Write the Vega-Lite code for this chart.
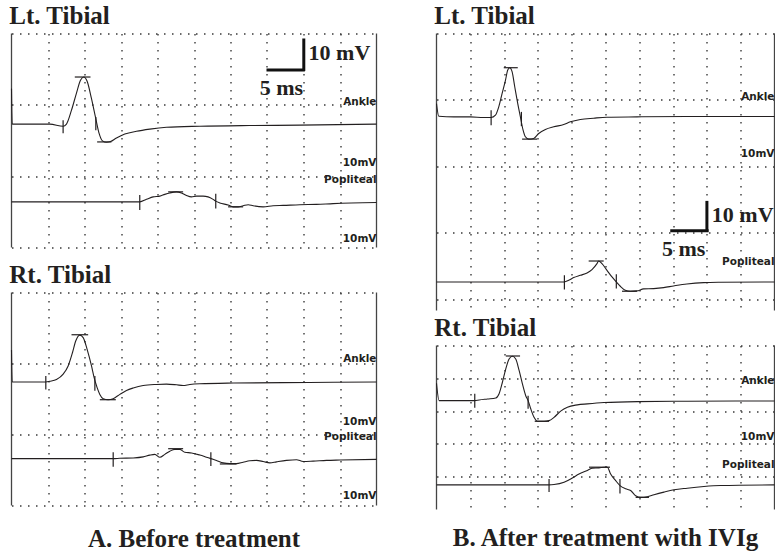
{
  "$schema": "https://vega.github.io/schema/vega-lite/v6.json",
  "background": "white",
  "padding": {"left": 8.5, "top": 3.5, "right": 0, "bottom": 0},
  "config": {
    "view": {"stroke": null},
    "axis": {"labels": false, "ticks": false, "domain": false, "grid": true, "gridColor": "#3a3a3a", "gridDash": [1.5, 6.5], "gridWidth": 1.4, "minExtent": 0, "maxExtent": 0, "labelPadding": 0, "titlePadding": 0},
    "title": {"font": "Liberation Serif", "fontSize": 25, "fontWeight": "bold", "color": "#231f20", "anchor": "start", "offset": 4},
    "line": {"color": "#231f20", "strokeWidth": 1.1, "interpolate": "monotone"}
  },
  "spacing": 54,
  "hconcat": [
    {
      "title": {"text": "A. Before treatment", "orient": "bottom", "anchor": "middle", "offset": 21},
      "spacing": 14,
      "vconcat": [
        {
          "width": 365, "height": 214,
          "title": {"text": "Lt. Tibial"},
          "layer": [
            {"data": {"values": [{"b": 0}, {"b": 50}]},
             "mark": {"type": "rule", "color": "#444", "strokeWidth": 1.3},
             "encoding": {"x": {"field": "b", "type": "quantitative", "scale": {"domain": [0, 50], "nice": false, "zero": false}, "axis": {"values": [5, 10, 15, 20, 25, 30, 35, 40, 45], "title": null}}}},
            {"data": {"values": [
              {"t": 0.0, "v": -15.4, "s": "Ankle"}, {"t": 0.1, "v": -25.4, "s": "Ankle"}, {"t": 5.25, "v": -25.4, "s": "Ankle"}, {"t": 7.07, "v": -26.0, "s": "Ankle"}, {"t": 7.53, "v": -25.4, "s": "Ankle"}, {"t": 8.22, "v": -21.5, "s": "Ankle"}, {"t": 8.9, "v": -16.7, "s": "Ankle"}, {"t": 9.45, "v": -13.1, "s": "Ankle"}, {"t": 9.9, "v": -12.2, "s": "Ankle"}, {"t": 10.36, "v": -13.4, "s": "Ankle"}, {"t": 10.95, "v": -18.2, "s": "Ankle"}, {"t": 11.54, "v": -23.8, "s": "Ankle"}, {"t": 12.0, "v": -28.0, "s": "Ankle"}, {"t": 12.46, "v": -30.1, "s": "Ankle"}, {"t": 13.01, "v": -30.5, "s": "Ankle"}, {"t": 13.56, "v": -30.3, "s": "Ankle"}, {"t": 14.38, "v": -29.3, "s": "Ankle"}, {"t": 15.52, "v": -28.2, "s": "Ankle"}, {"t": 17.12, "v": -27.4, "s": "Ankle"}, {"t": 18.95, "v": -26.8, "s": "Ankle"}, {"t": 21.23, "v": -26.3, "s": "Ankle"}, {"t": 25.8, "v": -26.0, "s": "Ankle"}, {"t": 32.6, "v": -25.8, "s": "Ankle"}, {"t": 39.5, "v": -25.7, "s": "Ankle"}, {"t": 50, "v": -25.4, "s": "Ankle"},
              {"t": 0, "v": -47.2, "s": "Popliteal"}, {"t": 17.57, "v": -47.2, "s": "Popliteal"}, {"t": 18.49, "v": -46.5, "s": "Popliteal"}, {"t": 19.4, "v": -45.8, "s": "Popliteal"}, {"t": 20.31, "v": -45.6, "s": "Popliteal"}, {"t": 21.0, "v": -45.1, "s": "Popliteal"}, {"t": 21.68, "v": -44.7, "s": "Popliteal"}, {"t": 22.6, "v": -44.4, "s": "Popliteal"}, {"t": 23.28, "v": -44.7, "s": "Popliteal"}, {"t": 23.97, "v": -45.4, "s": "Popliteal"}, {"t": 24.65, "v": -45.8, "s": "Popliteal"}, {"t": 25.34, "v": -45.6, "s": "Popliteal"}, {"t": 26.25, "v": -45.6, "s": "Popliteal"}, {"t": 26.93, "v": -45.8, "s": "Popliteal"}, {"t": 27.62, "v": -46.5, "s": "Popliteal"}, {"t": 27.98, "v": -47.0, "s": "Popliteal"}, {"t": 28.53, "v": -47.5, "s": "Popliteal"}, {"t": 29.67, "v": -48.1, "s": "Popliteal"}, {"t": 30.36, "v": -48.6, "s": "Popliteal"}, {"t": 31.04, "v": -48.6, "s": "Popliteal"}, {"t": 31.73, "v": -48.3, "s": "Popliteal"}, {"t": 32.42, "v": -48.0, "s": "Popliteal"}, {"t": 33.1, "v": -48.3, "s": "Popliteal"}, {"t": 34.47, "v": -48.6, "s": "Popliteal"}, {"t": 35.84, "v": -48.3, "s": "Popliteal"}, {"t": 37.21, "v": -48.2, "s": "Popliteal"}, {"t": 39.49, "v": -48.0, "s": "Popliteal"}, {"t": 41.77, "v": -47.9, "s": "Popliteal"}, {"t": 44.06, "v": -47.7, "s": "Popliteal"}, {"t": 50, "v": -47.4, "s": "Popliteal"}
             ]},
             "mark": {"type": "line"},
             "encoding": {"x": {"field": "t", "type": "quantitative"}, "y": {"field": "v", "type": "quantitative", "scale": {"domain": [-60, 0], "nice": false, "zero": false}, "axis": {"values": [0, -10, -20, -30, -40, -50, -60], "title": null}}, "detail": {"field": "s"}}},
            {"data": {"values": [
              {"x": 7.07, "x2": 7.07, "y": -24.3, "y2": -28.0}, {"x": 8.67, "x2": 10.82, "y": -12.2, "y2": -12.2}, {"x": 11.55, "x2": 11.55, "y": -23.4, "y2": -27.1}, {"x": 11.73, "x2": 13.69, "y": -30.4, "y2": -30.4},
              {"x": 17.57, "x2": 17.57, "y": -45.3, "y2": -49.5}, {"x": 21.46, "x2": 23.51, "y": -44.4, "y2": -44.4}, {"x": 27.98, "x2": 27.98, "y": -44.9, "y2": -49.1}, {"x": 29.67, "x2": 31.73, "y": -48.6, "y2": -48.6}
             ]},
             "mark": {"type": "rule", "color": "#231f20", "strokeWidth": 1.2},
             "encoding": {"x": {"field": "x", "type": "quantitative"}, "x2": {"field": "x2"}, "y": {"field": "y", "type": "quantitative"}, "y2": {"field": "y2"}}},
            {"data": {"values": [{"x": 40.04, "x2": 40.04, "y": -1.4, "y2": -10.5}, {"x": 34.93, "x2": 40.18, "y": -10.2, "y2": -10.2}]},
             "mark": {"type": "rule", "color": "#111", "strokeWidth": 3},
             "encoding": {"x": {"field": "x", "type": "quantitative"}, "x2": {"field": "x2"}, "y": {"field": "y", "type": "quantitative"}, "y2": {"field": "y2"}}},
            {"data": {"values": [{"t": 40.7, "v": -5.6, "label": "10 mV", "a": "left"}, {"t": 36.98, "v": -15.4, "label": "5 ms", "a": "center"}]},
             "mark": {"type": "text", "font": "Liberation Serif", "fontWeight": "bold", "fontSize": 22, "baseline": "middle", "align": {"expr": "datum.a"}, "color": "#231f20"},
             "encoding": {"x": {"field": "t", "type": "quantitative"}, "y": {"field": "v", "type": "quantitative"}, "text": {"field": "label"}}},
            {"data": {"values": [{"t": 50, "v": -19.3, "label": "Ankle"}, {"t": 50, "v": -36.4, "label": "10mV"}, {"t": 50, "v": -41.1, "label": "Popliteal"}, {"t": 50, "v": -57.7, "label": "10mV"}]},
             "mark": {"type": "text", "font": "DejaVu Sans", "fontWeight": "bold", "fontSize": 10.5, "baseline": "middle", "align": "right", "color": "#231f20"},
             "encoding": {"x": {"field": "t", "type": "quantitative"}, "y": {"field": "v", "type": "quantitative"}, "text": {"field": "label"}}}
          ]
        },
        {
          "width": 365, "height": 213,
          "title": {"text": "Rt. Tibial"},
          "layer": [
            {"data": {"values": [{"b": 0}, {"b": 50}]},
             "mark": {"type": "rule", "color": "#444", "strokeWidth": 1.3},
             "encoding": {"x": {"field": "b", "type": "quantitative", "scale": {"domain": [0, 50], "nice": false, "zero": false}, "axis": {"values": [5, 10, 15, 20, 25, 30, 35, 40, 45], "title": null}}}},
            {"data": {"values": [
              {"t": 0.0, "v": -16.2, "s": "Ankle"}, {"t": 0.1, "v": -25.2, "s": "Ankle"}, {"t": 4.7, "v": -25.2, "s": "Ankle"}, {"t": 5.25, "v": -25.0, "s": "Ankle"}, {"t": 6.16, "v": -24.5, "s": "Ankle"}, {"t": 7.08, "v": -23.0, "s": "Ankle"}, {"t": 7.76, "v": -20.7, "s": "Ankle"}, {"t": 8.36, "v": -16.9, "s": "Ankle"}, {"t": 8.81, "v": -13.6, "s": "Ankle"}, {"t": 9.36, "v": -12.0, "s": "Ankle"}, {"t": 9.82, "v": -12.7, "s": "Ankle"}, {"t": 10.36, "v": -16.0, "s": "Ankle"}, {"t": 10.96, "v": -20.7, "s": "Ankle"}, {"t": 11.32, "v": -24.0, "s": "Ankle"}, {"t": 11.73, "v": -26.8, "s": "Ankle"}, {"t": 12.1, "v": -28.7, "s": "Ankle"}, {"t": 12.56, "v": -29.9, "s": "Ankle"}, {"t": 13.24, "v": -30.2, "s": "Ankle"}, {"t": 13.93, "v": -29.9, "s": "Ankle"}, {"t": 14.84, "v": -28.7, "s": "Ankle"}, {"t": 15.75, "v": -27.6, "s": "Ankle"}, {"t": 16.67, "v": -26.9, "s": "Ankle"}, {"t": 18.04, "v": -26.2, "s": "Ankle"}, {"t": 19.86, "v": -25.9, "s": "Ankle"}, {"t": 21.23, "v": -25.8, "s": "Ankle"}, {"t": 22.6, "v": -26.0, "s": "Ankle"}, {"t": 23.51, "v": -26.2, "s": "Ankle"}, {"t": 24.43, "v": -25.9, "s": "Ankle"}, {"t": 25.8, "v": -25.7, "s": "Ankle"}, {"t": 30.36, "v": -25.5, "s": "Ankle"}, {"t": 37.21, "v": -25.4, "s": "Ankle"}, {"t": 44.06, "v": -25.3, "s": "Ankle"}, {"t": 50, "v": -25.2, "s": "Ankle"},
              {"t": 0, "v": -46.8, "s": "Popliteal"}, {"t": 13.93, "v": -46.8, "s": "Popliteal"}, {"t": 14.84, "v": -46.7, "s": "Popliteal"}, {"t": 16.67, "v": -46.6, "s": "Popliteal"}, {"t": 18.04, "v": -46.3, "s": "Popliteal"}, {"t": 18.95, "v": -45.8, "s": "Popliteal"}, {"t": 19.63, "v": -45.6, "s": "Popliteal"}, {"t": 20.32, "v": -46.4, "s": "Popliteal"}, {"t": 21.0, "v": -45.6, "s": "Popliteal"}, {"t": 21.69, "v": -44.7, "s": "Popliteal"}, {"t": 22.37, "v": -44.2, "s": "Popliteal"}, {"t": 23.06, "v": -44.2, "s": "Popliteal"}, {"t": 23.74, "v": -45.0, "s": "Popliteal"}, {"t": 24.66, "v": -45.2, "s": "Popliteal"}, {"t": 25.8, "v": -45.8, "s": "Popliteal"}, {"t": 26.71, "v": -46.4, "s": "Popliteal"}, {"t": 27.31, "v": -46.8, "s": "Popliteal"}, {"t": 28.08, "v": -47.3, "s": "Popliteal"}, {"t": 28.99, "v": -48.0, "s": "Popliteal"}, {"t": 29.91, "v": -48.2, "s": "Popliteal"}, {"t": 30.82, "v": -48.2, "s": "Popliteal"}, {"t": 31.73, "v": -47.8, "s": "Popliteal"}, {"t": 32.65, "v": -47.4, "s": "Popliteal"}, {"t": 33.56, "v": -47.3, "s": "Popliteal"}, {"t": 34.47, "v": -47.6, "s": "Popliteal"}, {"t": 35.39, "v": -48.0, "s": "Popliteal"}, {"t": 36.3, "v": -47.7, "s": "Popliteal"}, {"t": 37.67, "v": -47.3, "s": "Popliteal"}, {"t": 39.04, "v": -47.1, "s": "Popliteal"}, {"t": 39.95, "v": -47.6, "s": "Popliteal"}, {"t": 41.32, "v": -47.5, "s": "Popliteal"}, {"t": 43.15, "v": -47.3, "s": "Popliteal"}, {"t": 44.98, "v": -47.2, "s": "Popliteal"}, {"t": 50, "v": -47.0, "s": "Popliteal"}
             ]},
             "mark": {"type": "line"},
             "encoding": {"x": {"field": "t", "type": "quantitative"}, "y": {"field": "v", "type": "quantitative", "scale": {"domain": [-60, 0], "nice": false, "zero": false}, "axis": {"values": [0, -10, -20, -30, -40, -50, -60], "title": null}}, "detail": {"field": "s"}}},
            {"data": {"values": [
              {"x": 4.7, "x2": 4.7, "y": -23.5, "y2": -27.3}, {"x": 8.22, "x2": 10.5, "y": -11.9, "y2": -11.9}, {"x": 11.42, "x2": 11.42, "y": -23.5, "y2": -27.7}, {"x": 12.1, "x2": 14.29, "y": -30.2, "y2": -30.2},
              {"x": 13.93, "x2": 13.93, "y": -45.0, "y2": -49.1}, {"x": 21.46, "x2": 23.51, "y": -44.0, "y2": -44.0}, {"x": 27.31, "x2": 27.31, "y": -45.0, "y2": -48.9}, {"x": 28.54, "x2": 30.82, "y": -48.3, "y2": -48.3}
             ]},
             "mark": {"type": "rule", "color": "#231f20", "strokeWidth": 1.2},
             "encoding": {"x": {"field": "x", "type": "quantitative"}, "x2": {"field": "x2"}, "y": {"field": "y", "type": "quantitative"}, "y2": {"field": "y2"}}},
            {"data": {"values": [{"t": 50, "v": -18.8, "label": "Ankle"}, {"t": 50, "v": -36.4, "label": "10mV"}, {"t": 50, "v": -40.6, "label": "Popliteal"}, {"t": 50, "v": -57.4, "label": "10mV"}]},
             "mark": {"type": "text", "font": "DejaVu Sans", "fontWeight": "bold", "fontSize": 10.5, "baseline": "middle", "align": "right", "color": "#231f20"},
             "encoding": {"x": {"field": "t", "type": "quantitative"}, "y": {"field": "v", "type": "quantitative"}, "text": {"field": "label"}}}
          ]
        }
      ]
    },
    {
      "title": {"text": "B. After treatment with IVIg", "orient": "bottom", "anchor": "middle", "offset": 16},
      "spacing": 4,
      "vconcat": [
        {
          "width": 338, "height": 277,
          "title": {"text": "Lt. Tibial"},
          "layer": [
            {"data": {"values": [{"b": 0}, {"b": 50}]},
             "mark": {"type": "rule", "color": "#444", "strokeWidth": 1.3},
             "encoding": {"x": {"field": "b", "type": "quantitative", "scale": {"domain": [0, 50], "nice": false, "zero": false}, "axis": {"values": [5, 10, 15, 20, 25, 30, 35, 40, 45], "title": null}}}},
            {"data": {"values": [
              {"t": 0.0, "v": -21.1, "s": "Ankle"}, {"t": 0.34, "v": -24.9, "s": "Ankle"}, {"t": 2.56, "v": -25.1, "s": "Ankle"}, {"t": 5.02, "v": -25.1, "s": "Ankle"}, {"t": 6.99, "v": -25.3, "s": "Ankle"}, {"t": 8.08, "v": -25.3, "s": "Ankle"}, {"t": 8.72, "v": -24.6, "s": "Ankle"}, {"t": 9.21, "v": -22.1, "s": "Ankle"}, {"t": 9.7, "v": -18.1, "s": "Ankle"}, {"t": 10.2, "v": -14.1, "s": "Ankle"}, {"t": 10.54, "v": -11.0, "s": "Ankle"}, {"t": 10.84, "v": -10.3, "s": "Ankle"}, {"t": 11.18, "v": -11.5, "s": "Ankle"}, {"t": 11.58, "v": -16.1, "s": "Ankle"}, {"t": 12.02, "v": -21.1, "s": "Ankle"}, {"t": 12.41, "v": -25.1, "s": "Ankle"}, {"t": 12.81, "v": -29.1, "s": "Ankle"}, {"t": 13.15, "v": -31.1, "s": "Ankle"}, {"t": 13.65, "v": -31.8, "s": "Ankle"}, {"t": 14.38, "v": -31.6, "s": "Ankle"}, {"t": 15.12, "v": -30.1, "s": "Ankle"}, {"t": 16.11, "v": -28.9, "s": "Ankle"}, {"t": 17.34, "v": -28.1, "s": "Ankle"}, {"t": 18.82, "v": -27.4, "s": "Ankle"}, {"t": 19.8, "v": -26.6, "s": "Ankle"}, {"t": 21.28, "v": -25.9, "s": "Ankle"}, {"t": 23.25, "v": -25.5, "s": "Ankle"}, {"t": 25.22, "v": -25.2, "s": "Ankle"}, {"t": 29.65, "v": -25.1, "s": "Ankle"}, {"t": 37.04, "v": -25.0, "s": "Ankle"}, {"t": 50, "v": -25.0, "s": "Ankle"},
              {"t": 0, "v": -74.8, "s": "Popliteal"}, {"t": 18.92, "v": -74.8, "s": "Popliteal"}, {"t": 19.56, "v": -74.3, "s": "Popliteal"}, {"t": 20.3, "v": -73.5, "s": "Popliteal"}, {"t": 21.28, "v": -72.8, "s": "Popliteal"}, {"t": 22.27, "v": -72.1, "s": "Popliteal"}, {"t": 23.0, "v": -71.1, "s": "Popliteal"}, {"t": 23.74, "v": -69.3, "s": "Popliteal"}, {"t": 23.99, "v": -68.5, "s": "Popliteal"}, {"t": 24.48, "v": -69.3, "s": "Popliteal"}, {"t": 25.22, "v": -71.3, "s": "Popliteal"}, {"t": 25.96, "v": -73.3, "s": "Popliteal"}, {"t": 26.6, "v": -74.8, "s": "Popliteal"}, {"t": 27.19, "v": -76.1, "s": "Popliteal"}, {"t": 27.93, "v": -77.3, "s": "Popliteal"}, {"t": 28.67, "v": -77.6, "s": "Popliteal"}, {"t": 29.65, "v": -77.5, "s": "Popliteal"}, {"t": 30.64, "v": -76.9, "s": "Popliteal"}, {"t": 32.12, "v": -76.8, "s": "Popliteal"}, {"t": 33.6, "v": -76.5, "s": "Popliteal"}, {"t": 35.07, "v": -76.0, "s": "Popliteal"}, {"t": 37.04, "v": -75.4, "s": "Popliteal"}, {"t": 39.51, "v": -75.0, "s": "Popliteal"}, {"t": 41.97, "v": -74.9, "s": "Popliteal"}, {"t": 50, "v": -74.8, "s": "Popliteal"}
             ]},
             "mark": {"type": "line"},
             "encoding": {"x": {"field": "t", "type": "quantitative"}, "y": {"field": "v", "type": "quantitative", "scale": {"domain": [-83.4, 0], "nice": false, "zero": false}, "axis": {"values": [0, -10, -20, -30, -40, -50, -60, -70, -80], "title": null}}, "detail": {"field": "s"}}},
            {"data": {"values": [
              {"x": 8.08, "x2": 8.08, "y": -23.1, "y2": -27.6}, {"x": 9.95, "x2": 12.02, "y": -10.3, "y2": -10.3}, {"x": 12.56, "x2": 12.56, "y": -23.6, "y2": -27.9}, {"x": 12.66, "x2": 14.88, "y": -31.8, "y2": -31.8},
              {"x": 18.92, "x2": 18.92, "y": -72.8, "y2": -77.1}, {"x": 22.51, "x2": 24.73, "y": -68.5, "y2": -68.5}, {"x": 26.6, "x2": 26.6, "y": -72.5, "y2": -76.8}, {"x": 27.44, "x2": 29.65, "y": -77.6, "y2": -77.6}
             ]},
             "mark": {"type": "rule", "color": "#231f20", "strokeWidth": 1.2},
             "encoding": {"x": {"field": "x", "type": "quantitative"}, "x2": {"field": "x2"}, "y": {"field": "y", "type": "quantitative"}, "y2": {"field": "y2"}}},
            {"data": {"values": [{"x": 40.0, "x2": 40.0, "y": -50.4, "y2": -59.7}, {"x": 34.58, "x2": 40.25, "y": -59.4, "y2": -59.4}]},
             "mark": {"type": "rule", "color": "#111", "strokeWidth": 3},
             "encoding": {"x": {"field": "x", "type": "quantitative"}, "x2": {"field": "x2"}, "y": {"field": "y", "type": "quantitative"}, "y2": {"field": "y2"}}},
            {"data": {"values": [{"t": 40.73, "v": -54.7, "label": "10 mV", "a": "left"}, {"t": 36.55, "v": -64.8, "label": "5 ms", "a": "center"}]},
             "mark": {"type": "text", "font": "Liberation Serif", "fontWeight": "bold", "fontSize": 22, "baseline": "middle", "align": {"expr": "datum.a"}, "color": "#231f20"},
             "encoding": {"x": {"field": "t", "type": "quantitative"}, "y": {"field": "v", "type": "quantitative"}, "text": {"field": "label"}}},
            {"data": {"values": [{"t": 50, "v": -19.1, "label": "Ankle"}, {"t": 50, "v": -36.3, "label": "10mV"}, {"t": 50, "v": -68.8, "label": "Popliteal"}]},
             "mark": {"type": "text", "font": "DejaVu Sans", "fontWeight": "bold", "fontSize": 10.5, "baseline": "middle", "align": "right", "color": "#231f20"},
             "encoding": {"x": {"field": "t", "type": "quantitative"}, "y": {"field": "v", "type": "quantitative"}, "text": {"field": "label"}}}
          ]
        },
        {
          "width": 338, "height": 164,
          "title": {"text": "Rt. Tibial"},
          "layer": [
            {"data": {"values": [{"b": 0}, {"b": 50}]},
             "mark": {"type": "rule", "color": "#444", "strokeWidth": 1.3},
             "encoding": {"x": {"field": "b", "type": "quantitative", "scale": {"domain": [0, 50], "nice": false, "zero": false}, "axis": {"values": [5, 10, 15, 20, 25, 30, 35, 40, 45], "title": null}}}},
            {"data": {"values": [
              {"t": 0.0, "v": -11.5, "s": "Ankle"}, {"t": 0.39, "v": -16.8, "s": "Ankle"}, {"t": 5.66, "v": -16.8, "s": "Ankle"}, {"t": 6.31, "v": -16.6, "s": "Ankle"}, {"t": 7.54, "v": -16.3, "s": "Ankle"}, {"t": 8.77, "v": -16.0, "s": "Ankle"}, {"t": 9.26, "v": -14.7, "s": "Ankle"}, {"t": 9.75, "v": -11.2, "s": "Ankle"}, {"t": 10.25, "v": -7.1, "s": "Ankle"}, {"t": 10.74, "v": -4.1, "s": "Ankle"}, {"t": 11.23, "v": -3.3, "s": "Ankle"}, {"t": 11.72, "v": -4.1, "s": "Ankle"}, {"t": 12.22, "v": -7.6, "s": "Ankle"}, {"t": 12.71, "v": -11.7, "s": "Ankle"}, {"t": 13.2, "v": -15.3, "s": "Ankle"}, {"t": 13.55, "v": -16.8, "s": "Ankle"}, {"t": 13.94, "v": -19.3, "s": "Ankle"}, {"t": 14.43, "v": -21.9, "s": "Ankle"}, {"t": 14.93, "v": -23.1, "s": "Ankle"}, {"t": 15.91, "v": -23.1, "s": "Ankle"}, {"t": 16.65, "v": -22.9, "s": "Ankle"}, {"t": 17.39, "v": -21.9, "s": "Ankle"}, {"t": 18.37, "v": -20.0, "s": "Ankle"}, {"t": 19.36, "v": -18.8, "s": "Ankle"}, {"t": 20.84, "v": -18.1, "s": "Ankle"}, {"t": 22.32, "v": -17.8, "s": "Ankle"}, {"t": 24.78, "v": -17.4, "s": "Ankle"}, {"t": 29.7, "v": -17.1, "s": "Ankle"}, {"t": 37.09, "v": -17.0, "s": "Ankle"}, {"t": 50, "v": -16.9, "s": "Ankle"},
              {"t": 0, "v": -42.5, "s": "Popliteal"}, {"t": 16.65, "v": -42.5, "s": "Popliteal"}, {"t": 17.39, "v": -42.4, "s": "Popliteal"}, {"t": 18.87, "v": -41.7, "s": "Popliteal"}, {"t": 20.1, "v": -40.4, "s": "Popliteal"}, {"t": 21.08, "v": -39.2, "s": "Popliteal"}, {"t": 22.32, "v": -38.1, "s": "Popliteal"}, {"t": 23.05, "v": -37.4, "s": "Popliteal"}, {"t": 24.04, "v": -37.3, "s": "Popliteal"}, {"t": 24.88, "v": -37.1, "s": "Popliteal"}, {"t": 25.27, "v": -37.1, "s": "Popliteal"}, {"t": 25.76, "v": -39.2, "s": "Popliteal"}, {"t": 26.5, "v": -41.2, "s": "Popliteal"}, {"t": 27.14, "v": -42.7, "s": "Popliteal"}, {"t": 27.98, "v": -43.7, "s": "Popliteal"}, {"t": 28.72, "v": -44.2, "s": "Popliteal"}, {"t": 29.46, "v": -45.8, "s": "Popliteal"}, {"t": 30.2, "v": -46.3, "s": "Popliteal"}, {"t": 31.18, "v": -46.1, "s": "Popliteal"}, {"t": 32.17, "v": -45.5, "s": "Popliteal"}, {"t": 33.64, "v": -44.7, "s": "Popliteal"}, {"t": 35.12, "v": -44.0, "s": "Popliteal"}, {"t": 37.09, "v": -43.5, "s": "Popliteal"}, {"t": 39.56, "v": -43.0, "s": "Popliteal"}, {"t": 42.02, "v": -42.7, "s": "Popliteal"}, {"t": 50, "v": -42.5, "s": "Popliteal"}
             ]},
             "mark": {"type": "line"},
             "encoding": {"x": {"field": "t", "type": "quantitative"}, "y": {"field": "v", "type": "quantitative", "scale": {"domain": [-50, 0], "nice": false, "zero": false}, "axis": {"values": [0, -10, -20, -30, -40], "title": null}}, "detail": {"field": "s"}}},
            {"data": {"values": [
              {"x": 5.66, "x2": 5.66, "y": -14.7, "y2": -19.0}, {"x": 10.25, "x2": 12.36, "y": -3.2, "y2": -3.2}, {"x": 13.55, "x2": 13.55, "y": -15.3, "y2": -19.3}, {"x": 14.53, "x2": 16.65, "y": -23.1, "y2": -23.1},
              {"x": 16.65, "x2": 16.65, "y": -40.7, "y2": -44.7}, {"x": 22.56, "x2": 25.66, "y": -37.1, "y2": -37.1}, {"x": 27.14, "x2": 27.14, "y": -40.7, "y2": -45.1}, {"x": 29.46, "x2": 31.43, "y": -46.3, "y2": -46.3}
             ]},
             "mark": {"type": "rule", "color": "#231f20", "strokeWidth": 1.2},
             "encoding": {"x": {"field": "x", "type": "quantitative"}, "x2": {"field": "x2"}, "y": {"field": "y", "type": "quantitative"}, "y2": {"field": "y2"}}},
            {"data": {"values": [{"t": 50, "v": -10.7, "label": "Ankle"}, {"t": 50, "v": -27.8, "label": "10mV"}, {"t": 50, "v": -36.3, "label": "Popliteal"}]},
             "mark": {"type": "text", "font": "DejaVu Sans", "fontWeight": "bold", "fontSize": 10.5, "baseline": "middle", "align": "right", "color": "#231f20"},
             "encoding": {"x": {"field": "t", "type": "quantitative"}, "y": {"field": "v", "type": "quantitative"}, "text": {"field": "label"}}}
          ]
        }
      ]
    }
  ]
}
